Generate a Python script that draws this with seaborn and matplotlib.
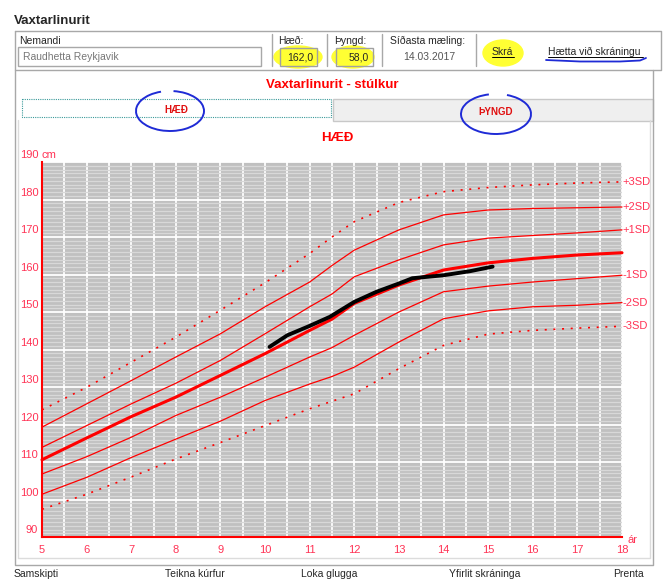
import numpy as np
import pandas as pd
import matplotlib
matplotlib.use("Agg")
import matplotlib.pyplot as plt
import seaborn as sns
from matplotlib.patches import Rectangle, Arc, Ellipse

# ----------- Data -----------
ages = [5, 6, 7, 8, 9, 10, 11, 11.5, 12, 13, 14, 15, 16, 17, 18]
sd_p3 = [123.9, 129.9, 136.6, 143.3, 150.5, 157.8, 165.6, 170.0, 174.1, 179.2, 182.1, 183.2, 183.9, 184.4, 184.7]
sd_p2 = [119.3, 125.5, 131.7, 138.0, 144.2, 151.4, 158.0, 162.4, 166.5, 171.9, 175.9, 177.2, 177.6, 177.8, 178.0]
sd_p1 = [113.9, 119.7, 125.5, 131.0, 137.1, 144.2, 151.4, 154.8, 159.4, 163.9, 167.9, 169.7, 170.4, 171.1, 171.9]
median = [110.6, 116.4, 122.1, 127.3, 133.1, 138.9, 145.1, 148.1, 152.3, 157.2, 161.2, 163.1, 164.3, 165.2, 165.8]
sd_m1 = [106.8, 111.4, 116.6, 122.4, 127.3, 132.6, 138.0, 140.5, 143.8, 150.0, 155.4, 156.9, 158.0, 158.9, 159.8]
sd_m2 = [101.4, 105.9, 111.2, 116.1, 120.9, 126.4, 130.8, 132.8, 135.3, 142.0, 148.2, 150.3, 151.4, 151.8, 152.5]
sd_m3 = [97.4, 101.4, 106.0, 110.8, 115.2, 119.7, 124.2, 126.2, 128.2, 134.9, 141.1, 144.1, 145.1, 145.7, 146.2]

pat_age = [10.1, 10.5, 11.0, 11.45, 12.0, 12.5, 13.0, 13.3, 14.0, 14.6, 15.1]
pat_height = [140.7, 143.8, 146.3, 148.7, 152.7, 155.4, 157.6, 159.0, 159.8, 160.9, 162.1]

sd_labels = ["+3SD", "+2SD", "+1SD", "", "-1SD", "-2SD", "-3SD"]
y_ticks = list(range(90, 191, 10))
x_ticks = list(range(5, 19))
bottom_links = ["Samskipti", "Teikna kúrfur", "Loka glugga", "Yfirlit skráninga", "Prenta"]

# ----------- Style -----------
sns.set_style("white")
plt.rcParams["font.family"] = ["Liberation Sans", "DejaVu Sans"]

RED = "#ff0000"
PINK = "#ff3355"
W, H = 663, 581

fig = plt.figure(figsize=(W / 100, H / 100), dpi=100)

# ----------- UI layer in pixel coords -----------
ui = fig.add_axes([0, 0, 1, 1])
ui.set_xlim(0, W)
ui.set_ylim(H, 0)
ui.axis("off")

ui.text(14, 21, "Vaxtarlinurit", fontsize=9.5, fontweight="bold", va="center", ha="left")

# frames
ui.plot([15, 661, 661, 15, 15], [31, 31, 70, 70, 31], color="#a8a8a8", lw=1)
ui.plot([15, 15, 653, 653], [70, 565, 565, 70], color="#a8a8a8", lw=1)
ui.plot([18, 18, 650, 650], [120, 558, 558, 120], color="#dcdcdc", lw=1)
for sx in [272, 327, 382, 476]:
    ui.plot([sx, sx], [34, 66], color="#a8a8a8", lw=1)

ui.text(19, 41, "Nemandi", fontsize=7.5, va="center")
ui.add_patch(Rectangle((18, 47), 243, 19, fill=False, ec="#a8a8a8", lw=1))
ui.text(23, 57, "Raudhetta Reykjavik", fontsize=7.5, color="#777777", va="center")

# yellow highlights
ui.add_patch(Ellipse((298, 57), 48, 22, color="#ffff33", zorder=1))
ui.add_patch(Ellipse((353, 57), 42, 22, color="#ffff33", zorder=1))
ui.add_patch(Ellipse((503, 53), 40, 26, color="#ffff33", zorder=1))

ui.text(278, 41, "Hæð:", fontsize=7.5, va="center")
ui.add_patch(Rectangle((280, 48), 37, 18, fill=False, ec="#a0a0a0", lw=1, zorder=2))
ui.text(313, 57.5, "162,0", fontsize=7.5, va="center", ha="right", zorder=3)
ui.text(334, 41, "Þyngd:", fontsize=7.5, va="center")
ui.add_patch(Rectangle((336, 48), 37, 18, fill=False, ec="#a0a0a0", lw=1, zorder=2))
ui.text(369, 57.5, "58,0", fontsize=7.5, va="center", ha="right", zorder=3)
ui.text(428, 41, "Síðasta mæling:", fontsize=7.5, va="center", ha="center")
ui.text(429, 57, "14.03.2017", fontsize=7.5, color="#555555", va="center", ha="center")

ui.text(492, 52, "Skrá", fontsize=7.5, va="center", zorder=3)
ui.plot([492, 514], [57, 57], color="black", lw=0.7, zorder=3)
ui.text(548, 52, "Hætta við skráningu", fontsize=7.5, va="center")
ui.plot([548, 643], [57, 57], color="black", lw=0.7)
ui.plot([546, 580, 620, 640, 646], [60, 61.5, 61.5, 60.5, 58], color="#1f2bd6", lw=1.3)

ui.text(332, 85, "Vaxtarlinurit - stúlkur", fontsize=9.5, fontweight="bold", color=RED,
        va="center", ha="center")

# tabs
ui.add_patch(Rectangle((333, 99), 320, 22, fc="#efefef", ec="#c8c8c8", lw=1))
ui.add_patch(Rectangle((22, 99), 309, 18, fc="white", ec="#3a9a9a", lw=0.8, ls=(0, (1, 1))))
ui.text(176, 110, "HÆÐ", fontsize=7, fontweight="bold", color="#e01010", va="center", ha="center")
ui.text(496, 112, "ÞYNGD", fontsize=7, fontweight="bold", color="#e01010", va="center", ha="center")
ui.add_patch(Arc((170, 111), 68, 40, theta1=-80, theta2=245, color="#1f2bd6", lw=1.4))
ui.add_patch(Arc((496, 114), 70, 40, theta1=-60, theta2=250, color="#1f2bd6", lw=1.4))

ui.text(337, 138, "HÆÐ", fontsize=9.5, fontweight="bold", color=RED, va="center", ha="center")

for lbl, lx in zip(bottom_links, [14, 165, 301, 449, 613]):
    ui.text(lx, 569, lbl, fontsize=7.5, va="top", ha="left")

# ----------- Chart -----------
ax = fig.add_axes([42 / W, 1 - 537 / H, 580 / W, 375 / H])
ax.set_facecolor("#c0c0c0")
ax.set_xlim(5, 18)
ax.set_ylim(90, 190)

ax.set_yticks(y_ticks)
ax.set_yticks(np.arange(90, 191, 1), minor=True)
ax.set_xticks(x_ticks)
ax.set_xticks(np.arange(5, 18.01, 0.5), minor=True)
ax.set_axisbelow(True)
ax.grid(which="minor", axis="y", color="#d8d8d8", lw=0.9)
ax.grid(which="major", axis="y", color="white", lw=1.3)
ax.grid(which="both", axis="x", color="white", lw=1.3)
ax.tick_params(which="minor", length=0)
ax.tick_params(axis="y", which="major", length=14.5, width=1.2, color=RED, labelleft=False)
ax.tick_params(axis="x", which="major", length=3, width=1, color=RED, labelcolor=PINK,
               labelsize=8, pad=3)
ax.set_xticklabels([str(v) for v in x_ticks])

for side in ["top", "right"]:
    ax.spines[side].set_visible(False)
for side in ["left", "bottom"]:
    ax.spines[side].set_color(RED)
    ax.spines[side].set_linewidth(1.5)

for v in y_ticks:
    ax.text(-0.0065, v + 0.5, str(v), transform=ax.get_yaxis_transform(), ha="right",
            va="bottom", fontsize=8, color=PINK, clip_on=False)
ax.text(0.0, 190.5, "cm", transform=ax.get_yaxis_transform(), ha="left", va="bottom",
        fontsize=8, color=PINK, clip_on=False)
ax.text(18.13, 89.2, "ár", ha="left", va="center", fontsize=8, color=PINK, clip_on=False)

series = [sd_p3, sd_p2, sd_p1, median, sd_m1, sd_m2, sd_m3]
styles = [(1.2, (0, (1.2, 4))), (0.9, "-"), (0.9, "-"), (2.2, "-"),
          (0.9, "-"), (0.9, "-"), (1.2, (0, (1.2, 4)))]
for vals, (lw, ls), lab in zip(series, styles, sd_labels):
    df = pd.DataFrame({"age": ages, "height": vals})
    sns.lineplot(data=df, x="age", y="height", ax=ax, color=RED, lw=lw, linestyle=ls,
                 clip_on=False)
    if lab:
        ax.text(18.02, vals[-1], lab, ha="left", va="center", fontsize=8, color=PINK,
                clip_on=False)

pat = pd.DataFrame({"age": pat_age, "height": pat_height})
sns.lineplot(data=pat, x="age", y="height", ax=ax, color="black", lw=2.8)

ax.set_xlabel("")
ax.set_ylabel("")

fig.savefig("out.png", dpi=100)
